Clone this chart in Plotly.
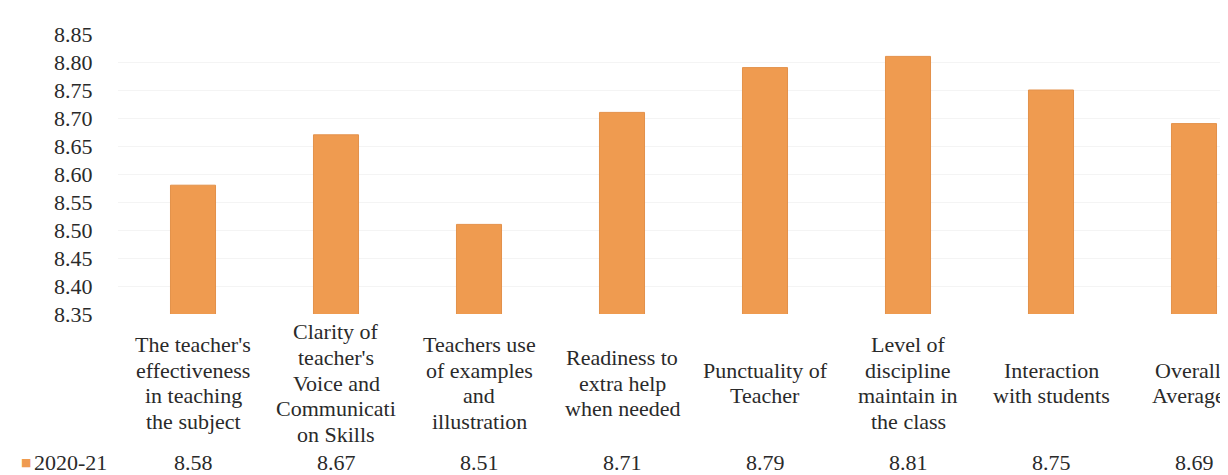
import plotly.graph_objects as go

categories = [
    "The teacher's effectiveness in teaching the subject",
    "Clarity of teacher's Voice and Communication Skills",
    "Teachers use of examples and illustration",
    "Readiness to extra help when needed",
    "Punctuality of Teacher",
    "Level of discipline maintain in the class",
    "Interaction with students",
    "Overall Average",
]
label_lines = [
    ["The teacher's", "effectiveness", "in teaching", "the subject"],
    ["Clarity of", "teacher's", "Voice and", "Communicati", "on Skills"],
    ["Teachers use", "of examples", "and", "illustration"],
    ["Readiness to", "extra help", "when needed"],
    ["Punctuality of", "Teacher"],
    ["Level of", "discipline", "maintain in", "the class"],
    ["Interaction", "with students"],
    ["Overall", "Average"],
]
series_name = "2020-21"
values = [8.58, 8.67, 8.51, 8.71, 8.79, 8.81, 8.75, 8.69]
y_ticks = [8.35, 8.40, 8.45, 8.50, 8.55, 8.60, 8.65, 8.70, 8.75, 8.80, 8.85]

BAR = "#EF9B50"
TXT = "#2a2a2a"
FONT = "serif"
W, H = 1228, 475
ML, MR, MT, MB = 110, 0, 26, 169
plot_h = H - MT - MB
plot_w = W - ML - MR

def py_to_paper(py):
    return (H - MB - py) / plot_h

def px_to_paper(px):
    return (px - ML) / plot_w

x_idx = list(range(len(categories)))

fig = go.Figure()
fig.add_trace(go.Bar(
    x=x_idx, y=values,
    marker=dict(color=BAR, line=dict(color="#E3914A", width=1)),
    width=0.315, showlegend=False,
))

annotations = []
center_py = 375
line_gap = 25.7
last = len(label_lines) - 1
for i, lines in enumerate(label_lines):
    n = len(lines)
    for j, ln in enumerate(lines):
        py = center_py + (j - (n - 1) / 2) * line_gap
        annotations.append(dict(
            x=i, xref="x", y=py_to_paper(py), yref="paper",
            text=ln, showarrow=False, xanchor="center", yanchor="middle",
            xshift=-6 if i == last else 0,
            font=dict(family=FONT, size=22, color=TXT),
        ))

row_py = 454
for i, v in enumerate(values):
    annotations.append(dict(
        x=i, xref="x", y=py_to_paper(row_py), yref="paper",
        text=f"{v:.2f}", showarrow=False, xanchor="center", yanchor="middle",
        font=dict(family=FONT, size=22, color=TXT),
    ))

# legend key square + series name of the data table row
annotations.append(dict(
    x=px_to_paper(11), xref="paper", y=py_to_paper(row_py + 1), yref="paper",
    text="■", showarrow=False, xanchor="left", yanchor="middle",
    font=dict(family="DejaVu Sans", size=11, color=BAR),
))
annotations.append(dict(
    x=px_to_paper(24), xref="paper", y=py_to_paper(row_py), yref="paper",
    text=series_name, showarrow=False, xanchor="left", yanchor="middle",
    font=dict(family=FONT, size=22, color=TXT),
))

fig.update_layout(
    width=W, height=H,
    margin=dict(l=ML, r=MR, t=MT, b=MB),
    paper_bgcolor="white", plot_bgcolor="white",
    font=dict(family=FONT, size=22, color=TXT),
    annotations=annotations,
)
fig.update_xaxes(
    range=[-(185 - ML) / 143, (W - MR - 185) / 143],
    showticklabels=False, showgrid=False, zeroline=False, showline=False,
    ticks="",
)
fig.update_yaxes(
    range=[8.35, 8.85], tickvals=y_ticks, ticktext=[f"{t:.2f}" for t in y_ticks],
    showgrid=True, gridcolor="#f4f4f4", gridwidth=1, zeroline=False,
    showline=False, ticks="outside", ticklen=20, tickcolor="rgba(0,0,0,0)",
    tickfont=dict(family=FONT, size=22, color=TXT),
)

fig.write_html("out.html")
